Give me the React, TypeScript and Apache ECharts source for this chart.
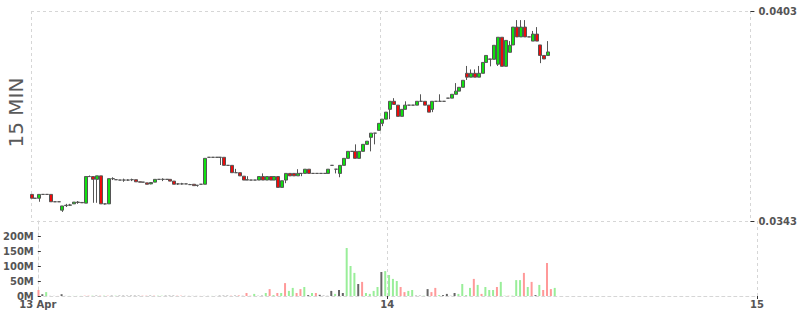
import React, { useEffect, useRef } from 'react';
import * as echarts from 'echarts';

// ---- data ----
const CANDLE_START = Date.UTC(2021, 3, 13, 1, 15); // first 15-min interval start
const CANDLE_MINUTES = 15;
const AXIS_MIN = Date.UTC(2021, 3, 13, 1, 20);
const AXIS_MAX = Date.UTC(2021, 3, 15, 0, 0);
const DAY_TICKS = [Date.UTC(2021, 3, 14), Date.UTC(2021, 3, 15)];
const PRICE_TICKS = [0.0343, 0.0403];
const VOLUME_TICKS = [0, 50e6, 100e6, 150e6, 200e6];
const VOLUME_MAX = 250e6;

// [open, close, low, high]
const candles: number[][] = [
  [0.03506, 0.03495, 0.03495, 0.03506],
  [0.03495, 0.03495, 0.03495, 0.03495],
  [0.03495, 0.03506, 0.03485, 0.03506],
  [0.03506, 0.03506, 0.03506, 0.03506],
  [0.03506, 0.03506, 0.03506, 0.03506],
  [0.03506, 0.03485, 0.03485, 0.03506],
  [0.03485, 0.03485, 0.03485, 0.03485],
  [0.03485, 0.03485, 0.03485, 0.03485],
  [0.03461, 0.03473, 0.03456, 0.03473],
  [0.03474, 0.03475, 0.0347, 0.03479],
  [0.03475, 0.03476, 0.03473, 0.03479],
  [0.03479, 0.03484, 0.03479, 0.03484],
  [0.03484, 0.03483, 0.03479, 0.03487],
  [0.03483, 0.03482, 0.03482, 0.03483],
  [0.03481, 0.03557, 0.03481, 0.03557],
  [0.03557, 0.03557, 0.03557, 0.0356],
  [0.03557, 0.03549, 0.03482, 0.03557],
  [0.03549, 0.03559, 0.03482, 0.03559],
  [0.03559, 0.03479, 0.03479, 0.03559],
  [0.03479, 0.03479, 0.03477, 0.03479],
  [0.03479, 0.03551, 0.03479, 0.03551],
  [0.03551, 0.03551, 0.03547, 0.03555],
  [0.03548, 0.03548, 0.03548, 0.03548],
  [0.03547, 0.03547, 0.03547, 0.03547],
  [0.03547, 0.03547, 0.03542, 0.03551],
  [0.03547, 0.03547, 0.03545, 0.03549],
  [0.03548, 0.03548, 0.03544, 0.03551],
  [0.03548, 0.03542, 0.03542, 0.03548],
  [0.03542, 0.03541, 0.03541, 0.03542],
  [0.03541, 0.03541, 0.03541, 0.03541],
  [0.03539, 0.03535, 0.03535, 0.03539],
  [0.03536, 0.0354, 0.03535, 0.0354],
  [0.03541, 0.03549, 0.03541, 0.03549],
  [0.03549, 0.03549, 0.03549, 0.03549],
  [0.03549, 0.03549, 0.03544, 0.03552],
  [0.03549, 0.03549, 0.03549, 0.03549],
  [0.03549, 0.03544, 0.03544, 0.03549],
  [0.03544, 0.03535, 0.03535, 0.03544],
  [0.03536, 0.03536, 0.03533, 0.03538],
  [0.03536, 0.03536, 0.03534, 0.03539],
  [0.03536, 0.03536, 0.03536, 0.03536],
  [0.03534, 0.03534, 0.03534, 0.03536],
  [0.03535, 0.03531, 0.03531, 0.03535],
  [0.03532, 0.03532, 0.03528, 0.03532],
  [0.03535, 0.03535, 0.03535, 0.03535],
  [0.03535, 0.03609, 0.03535, 0.03609],
  [0.03612, 0.03612, 0.03612, 0.03612],
  [0.03612, 0.03612, 0.03612, 0.03612],
  [0.03612, 0.03612, 0.03612, 0.03612],
  [0.03612, 0.03612, 0.0359, 0.03612],
  [0.03612, 0.03589, 0.03589, 0.03612],
  [0.03589, 0.03589, 0.03589, 0.03589],
  [0.03589, 0.03568, 0.03568, 0.03589],
  [0.03568, 0.03568, 0.03568, 0.03579],
  [0.03568, 0.03559, 0.03559, 0.03568],
  [0.03558, 0.03547, 0.03547, 0.03558],
  [0.03547, 0.03548, 0.03547, 0.03558],
  [0.03547, 0.03547, 0.03547, 0.03547],
  [0.03547, 0.03547, 0.03547, 0.03547],
  [0.03547, 0.03557, 0.03547, 0.03557],
  [0.03557, 0.03547, 0.03547, 0.03566],
  [0.03547, 0.03557, 0.03547, 0.03557],
  [0.03557, 0.03547, 0.03547, 0.03557],
  [0.03547, 0.03557, 0.03547, 0.03557],
  [0.03557, 0.03526, 0.03526, 0.03557],
  [0.03526, 0.03545, 0.03526, 0.03545],
  [0.03547, 0.03566, 0.03538, 0.03566],
  [0.03566, 0.03559, 0.03559, 0.03566],
  [0.03566, 0.03559, 0.03559, 0.03566],
  [0.03559, 0.03566, 0.03559, 0.03578],
  [0.03566, 0.03566, 0.03558, 0.03566],
  [0.03566, 0.03578, 0.03566, 0.03578],
  [0.03578, 0.03566, 0.03566, 0.03578],
  [0.03566, 0.03566, 0.03566, 0.03566],
  [0.03566, 0.03566, 0.03566, 0.03566],
  [0.03566, 0.03566, 0.03566, 0.03566],
  [0.03566, 0.03566, 0.03566, 0.03566],
  [0.03566, 0.03578, 0.03566, 0.03578],
  [0.03589, 0.03589, 0.03589, 0.03589],
  [0.03578, 0.03578, 0.03566, 0.03578],
  [0.03566, 0.03589, 0.03555, 0.03589],
  [0.03589, 0.03609, 0.03589, 0.03609],
  [0.03609, 0.03629, 0.03609, 0.03629],
  [0.03629, 0.03629, 0.03629, 0.03629],
  [0.03629, 0.03609, 0.03609, 0.03649],
  [0.03609, 0.03629, 0.03609, 0.03629],
  [0.03629, 0.03649, 0.03629, 0.03649],
  [0.03649, 0.03658, 0.03649, 0.03658],
  [0.03669, 0.03681, 0.03629, 0.03681],
  [0.03681, 0.03681, 0.03649, 0.03681],
  [0.03689, 0.03709, 0.03689, 0.03709],
  [0.03709, 0.03721, 0.03701, 0.03721],
  [0.03721, 0.03741, 0.03721, 0.03741],
  [0.03749, 0.03772, 0.03721, 0.03772],
  [0.03772, 0.03763, 0.03763, 0.03781],
  [0.03761, 0.03729, 0.03729, 0.03761],
  [0.03729, 0.03749, 0.03729, 0.03749],
  [0.03749, 0.03761, 0.03749, 0.03772],
  [0.03761, 0.03761, 0.03761, 0.03761],
  [0.03761, 0.03761, 0.03761, 0.03761],
  [0.03761, 0.03772, 0.03761, 0.03772],
  [0.03772, 0.03772, 0.03772, 0.03792],
  [0.03772, 0.03761, 0.03761, 0.03772],
  [0.03761, 0.03741, 0.03741, 0.03761],
  [0.03749, 0.03772, 0.03741, 0.03772],
  [0.03772, 0.03772, 0.03772, 0.03772],
  [0.03772, 0.03772, 0.03772, 0.03792],
  [0.03772, 0.03772, 0.03772, 0.03772],
  [0.03781, 0.03781, 0.03781, 0.03781],
  [0.03781, 0.03792, 0.03781, 0.03792],
  [0.03792, 0.03801, 0.03792, 0.03824],
  [0.03801, 0.03812, 0.03801, 0.03812],
  [0.03812, 0.03832, 0.03812, 0.03832],
  [0.03852, 0.03841, 0.03833, 0.03873],
  [0.03841, 0.03852, 0.03841, 0.03863],
  [0.03852, 0.03841, 0.03841, 0.03863],
  [0.03841, 0.03852, 0.03841, 0.03873],
  [0.03852, 0.03883, 0.03852, 0.03883],
  [0.03883, 0.03903, 0.03883, 0.03903],
  [0.03893, 0.03892, 0.03872, 0.03893],
  [0.03892, 0.03932, 0.03892, 0.03932],
  [0.03878, 0.03955, 0.03873, 0.03955],
  [0.03955, 0.03872, 0.03872, 0.03955],
  [0.03872, 0.03946, 0.03872, 0.03946],
  [0.03912, 0.03932, 0.03912, 0.03944],
  [0.03933, 0.03984, 0.03933, 0.03984],
  [0.03984, 0.03956, 0.03956, 0.04004],
  [0.03956, 0.03984, 0.03956, 0.04004],
  [0.03984, 0.03956, 0.03956, 0.04004],
  [0.03956, 0.03956, 0.03956, 0.03956],
  [0.03944, 0.03964, 0.03944, 0.03973],
  [0.03964, 0.03944, 0.03944, 0.03984],
  [0.03933, 0.03903, 0.03881, 0.03933],
  [0.03903, 0.03893, 0.03893, 0.03903],
  [0.03903, 0.03913, 0.03903, 0.03944],
];

// volume per candle, in millions
const volumesM: number[] = [
  20, 6, 13, 0.3, 0.3, 0.3, 6, 0.3, 0.3, 0.3,
  0.3, 0.3, 1, 1, 1, 1, 1, 1, 1, 1,
  1, 1, 1, 1, 1, 1, 1, 1, 1, 1,
  1, 1, 1, 1, 1, 1, 1, 1, 0.3, 0.3,
  0.3, 0.3, 0.3, 0.3, 0.3, 0.3, 0.3, 1, 1, 1,
  1, 1, 2, 0.5, 10, 1, 7, 0.5, 1, 10,
  23, 3, 10, 10, 43, 17, 27, 10, 23, 30,
  3, 10, 10, 4, 1, 0.5, 17, 7, 20, 10,
  160, 100, 77, 40, 47, 10, 7, 17, 30, 80,
  83, 70, 57, 50, 30, 13, 17, 20, 1, 1,
  1, 23, 13, 27, 3, 3, 7, 0.5, 10, 7,
  40, 3, 27, 57, 37, 7, 30, 20, 20, 30,
  47, 1, 1, 1, 53, 53, 77, 30, 47, 3,
  37, 20, 110, 23, 27,
];

const CHART_TITLE = '15 MIN';

const UP = '#0fe00f';
const DOWN = '#ee0a0a';
const BORDER = '#555555';
const VOL_UP = '#99ee99';
const VOL_DOWN = '#ff9999';
const VOL_FLAT = '#666666';
const GRID_LINE = '#d6d6d6';
const LABEL = '#555555';
const FONT = 'DejaVu Sans';

export default function App() {
  const ref = useRef<HTMLDivElement>(null);

  useEffect(() => {
    if (!ref.current) return;
    const chart = echarts.init(ref.current, undefined, { renderer: 'svg' });
    const half = (CANDLE_MINUTES / 2) * 60000;
    const times = candles.map((_, i) => CANDLE_START + i * CANDLE_MINUTES * 60000 + half);

    const candleData = candles.map((c, i) => [times[i], c[0], c[1], c[2], c[3]]);
    const volumeData = volumesM.map((v, i) => {
      const c = candles[i];
      const col = c[1] > c[0] ? VOL_UP : c[1] < c[0] ? VOL_DOWN : VOL_FLAT;
      return { value: [times[i], v * 1e6], itemStyle: { color: col } };
    });

    const dashed = { color: GRID_LINE, type: [3, 3] as any, width: 1 };
    const labelStyle = {
      fontFamily: FONT,
      fontSize: 10,
      fontWeight: 'bold' as const,
      color: LABEL,
    };

    chart.setOption({
      animation: false,
      textStyle: { fontFamily: FONT },
      graphic: [
        {
          type: 'text',
          x: 15.5,
          y: 112.5,
          rotation: Math.PI / 2,
          style: {
            text: CHART_TITLE,
            fontFamily: FONT,
            fontSize: 20,
            fill: '#5a5a5a',
            align: 'center',
            verticalAlign: 'middle',
          },
        },
      ],
      grid: [
        { left: 31, right: 43, top: 11, height: 210 },
        { left: 31, right: 43, top: 221, height: 75 },
      ],
      xAxis: [
        {
          type: 'value',
          gridIndex: 0,
          min: AXIS_MIN,
          max: AXIS_MAX,
          axisLine: { show: false },
          axisTick: { show: false, customValues: [AXIS_MIN, ...DAY_TICKS] },
          axisLabel: { show: false },
          splitLine: { show: true, lineStyle: dashed },
        },
        {
          type: 'value',
          gridIndex: 1,
          min: AXIS_MIN,
          max: AXIS_MAX,
          axisLine: { show: true, onZero: false, lineStyle: dashed },
          axisTick: {
            show: true,
            customValues: DAY_TICKS,
            length: 3,
            lineStyle: { color: '#333333' },
          },
          axisLabel: {
            ...labelStyle,
            margin: 3,
            customValues: [AXIS_MIN, ...DAY_TICKS],
            formatter: (v: number) => {
              const d = new Date(v);
              if (Math.abs(v - AXIS_MIN) < 1000) {
                const months = ['Jan', 'Feb', 'Mar', 'Apr', 'May', 'Jun', 'Jul', 'Aug', 'Sep', 'Oct', 'Nov', 'Dec'];
                return d.getUTCDate() + ' ' + months[d.getUTCMonth()];
              }
              return String(d.getUTCDate());
            },
          },
          splitLine: { show: true, lineStyle: dashed },
        },
      ],
      yAxis: [
        {
          type: 'value',
          gridIndex: 0,
          position: 'right',
          min: PRICE_TICKS[0],
          max: PRICE_TICKS[1],
          axisLine: { show: false },
          axisTick: {
            show: true,
            customValues: PRICE_TICKS,
            length: 4,
            lineStyle: { color: '#333333' },
          },
          axisLabel: {
            ...labelStyle,
            margin: 8,
            customValues: PRICE_TICKS,
            formatter: (v: number) => v.toFixed(4),
          },
          splitLine: { show: true, lineStyle: dashed },
        },
        {
          type: 'value',
          gridIndex: 1,
          position: 'left',
          min: 0,
          max: VOLUME_MAX,
          axisLine: { show: true, lineStyle: dashed },
          axisTick: {
            show: true,
            inside: true,
            customValues: VOLUME_TICKS,
            length: 3,
            lineStyle: { color: '#333333' },
          },
          axisLabel: {
            ...labelStyle,
            margin: 4,
            customValues: VOLUME_TICKS,
            formatter: (v: number) => Math.round(v / 1e6) + 'M',
          },
          splitLine: { show: false },
        },
      ],
      series: [
        {
          type: 'candlestick',
          xAxisIndex: 0,
          yAxisIndex: 0,
          data: candleData,
          barWidth: 3.5,
          itemStyle: {
            color: UP,
            color0: DOWN,
            borderColor: BORDER,
            borderColor0: BORDER,
            borderColorDoji: BORDER,
            borderWidth: 1,
          },
        },
        {
          type: 'bar',
          xAxisIndex: 1,
          yAxisIndex: 1,
          data: volumeData,
          barWidth: 2,
        },
      ],
    });

    return () => chart.dispose();
  }, []);

  return (
    <div
      ref={ref}
      style={{ position: 'fixed', left: 0, top: 0, width: 800, height: 315, background: '#fff' }}
    />
  );
}
